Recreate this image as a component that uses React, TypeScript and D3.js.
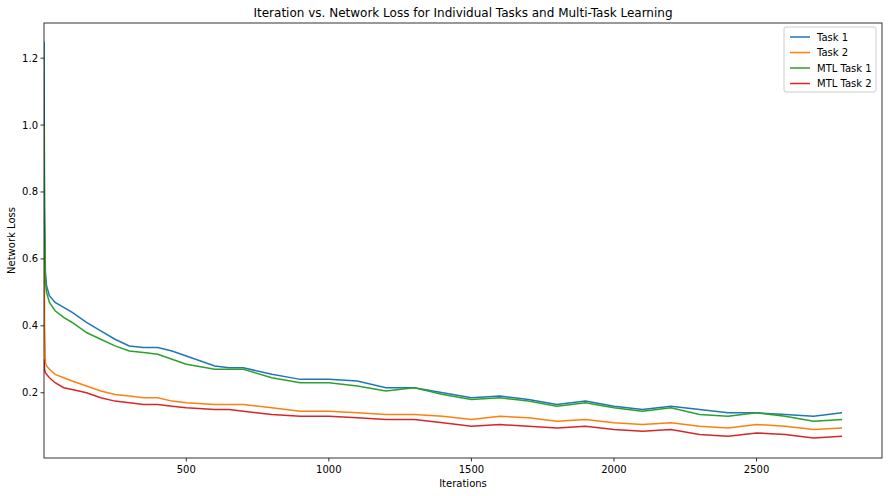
import React from 'react';
import * as d3 from 'd3';

const iterations = [1, 3, 6, 10, 20, 40, 70, 100, 150, 200, 250, 300, 350, 400, 450, 500, 600, 650, 700, 800, 900, 1000, 1100, 1200, 1300, 1400, 1500, 1600, 1700, 1800, 1900, 2000, 2100, 2200, 2300, 2400, 2500, 2600, 2700, 2800];
const task1 = [1.25, 0.75, 0.56, 0.52, 0.49, 0.47, 0.455, 0.44, 0.41, 0.385, 0.36, 0.34, 0.335, 0.335, 0.325, 0.31, 0.28, 0.275, 0.275, 0.255, 0.24, 0.24, 0.235, 0.215, 0.215, 0.2, 0.185, 0.19, 0.18, 0.165, 0.175, 0.16, 0.15, 0.16, 0.15, 0.14, 0.14, 0.135, 0.13, 0.14];
const task2 = [1.0, 0.4, 0.29, 0.28, 0.27, 0.255, 0.245, 0.235, 0.22, 0.205, 0.195, 0.19, 0.185, 0.185, 0.175, 0.17, 0.165, 0.165, 0.165, 0.155, 0.145, 0.145, 0.14, 0.135, 0.135, 0.13, 0.12, 0.13, 0.125, 0.115, 0.12, 0.11, 0.105, 0.11, 0.1, 0.095, 0.105, 0.1, 0.09, 0.095];
const mtl1 = [1.0, 0.7, 0.53, 0.5, 0.47, 0.445, 0.425, 0.41, 0.38, 0.36, 0.34, 0.325, 0.32, 0.315, 0.3, 0.285, 0.27, 0.27, 0.27, 0.245, 0.23, 0.23, 0.22, 0.205, 0.215, 0.195, 0.18, 0.185, 0.175, 0.16, 0.17, 0.155, 0.145, 0.155, 0.135, 0.13, 0.14, 0.13, 0.115, 0.12];
const mtl2 = [0.3, 0.27, 0.26, 0.255, 0.245, 0.23, 0.215, 0.21, 0.2, 0.185, 0.175, 0.17, 0.165, 0.165, 0.16, 0.155, 0.15, 0.15, 0.145, 0.135, 0.13, 0.13, 0.125, 0.12, 0.12, 0.11, 0.1, 0.105, 0.1, 0.095, 0.1, 0.09, 0.085, 0.09, 0.075, 0.07, 0.08, 0.075, 0.065, 0.07];

const seriesNames = ['Task 1', 'Task 2', 'MTL Task 1', 'MTL Task 2'];
const seriesValues = [task1, task2, mtl1, mtl2];
const colors = ['#1f77b4', '#ff7f0e', '#2ca02c', '#d62728'];
const xTicks = [500, 1000, 1500, 2000, 2500];
const yTicks = [0.2, 0.4, 0.6, 0.8, 1.0, 1.2];

const W = 888, H = 496;
const m = { left: 44, right: 6, top: 23, bottom: 38 };

export default function App() {
  const x = d3.scaleLinear().domain([1, 2940]).range([m.left, W - m.right]);
  const y = d3.scaleLinear().domain([0.005, 1.305]).range([H - m.bottom, m.top]);
  const line = d3.line<number>().x((_, i) => x(iterations[i])).y(d => y(d));
  const font = 'DejaVu Sans, sans-serif';
  const lx = 784, ly = 27;
  return (
    <svg width={W} height={H} style={{ position: 'absolute', left: 0, top: 0, fontFamily: font }}>
      <rect width={W} height={H} fill="#fff" />
      <text x={(m.left + W - m.right) / 2} y={17} textAnchor="middle" fontSize={12}>
        Iteration vs. Network Loss for Individual Tasks and Multi-Task Learning
      </text>
      <defs>
        <clipPath id="plot">
          <rect x={m.left} y={m.top} width={W - m.left - m.right} height={H - m.top - m.bottom} />
        </clipPath>
      </defs>
      <g clipPath="url(#plot)">
        {seriesValues.map((vals, i) => (
          <path key={i} d={line(vals) || ''} fill="none" stroke={colors[i]} strokeWidth={1.5} />
        ))}
      </g>
      <rect x={m.left} y={m.top} width={W - m.left - m.right} height={H - m.top - m.bottom} fill="none" stroke="#000" strokeWidth={0.8} />
      {xTicks.map(t => (
        <g key={t}>
          <line x1={x(t)} x2={x(t)} y1={H - m.bottom} y2={H - m.bottom + 3.5} stroke="#000" strokeWidth={0.8} />
          <text x={x(t)} y={H - m.bottom + 15} textAnchor="middle" fontSize={10}>{t}</text>
        </g>
      ))}
      {yTicks.map(t => (
        <g key={t}>
          <line x1={m.left - 3.5} x2={m.left} y1={y(t)} y2={y(t)} stroke="#000" strokeWidth={0.8} />
          <text x={m.left - 6} y={y(t) + 3.5} textAnchor="end" fontSize={10}>{t.toFixed(1)}</text>
        </g>
      ))}
      <text x={(m.left + W - m.right) / 2} y={487} textAnchor="middle" fontSize={10}>Iterations</text>
      <text transform={`translate(15,${(m.top + H - m.bottom) / 2}) rotate(-90)`} textAnchor="middle" fontSize={10}>Network Loss</text>
      <rect x={lx} y={ly} width={92} height={65} rx={2} fill="#fff" fillOpacity={0.8} stroke="#ccc" />
      {seriesNames.map((n, i) => (
        <g key={n}>
          <line x1={lx + 6} x2={lx + 26} y1={ly + 10 + i * 15.5} y2={ly + 10 + i * 15.5} stroke={colors[i]} strokeWidth={1.5} />
          <text x={lx + 33} y={ly + 13.5 + i * 15.5} fontSize={10}>{n}</text>
        </g>
      ))}
    </svg>
  );
}
